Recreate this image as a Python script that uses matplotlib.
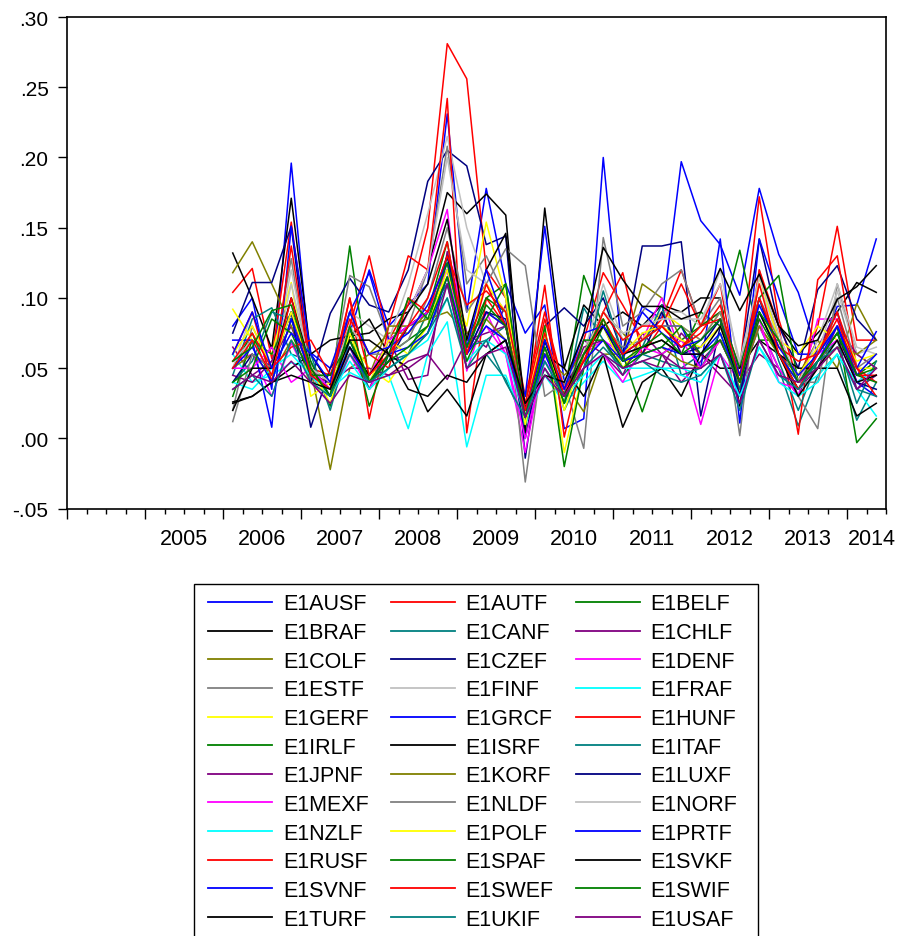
import matplotlib
matplotlib.use("Agg")
import matplotlib.pyplot as plt
from matplotlib.patches import Rectangle
import numpy as np

plt.rcParams['font.family'] = ['Liberation Sans', 'DejaVu Sans']

# quarterly observations 2006Q1 .. 2014Q2 (34 points); axis spans 2004Q1 .. 2014Q2
first_q = 8
n_axis_q = 42

names = ["E1AUSF", "E1AUTF", "E1BELF", "E1BRAF", "E1CANF", "E1CHLF",
         "E1COLF", "E1CZEF", "E1DENF", "E1ESTF", "E1FINF", "E1FRAF",
         "E1GERF", "E1GRCF", "E1HUNF", "E1IRLF", "E1ISRF", "E1ITAF",
         "E1JPNF", "E1KORF", "E1LUXF", "E1MEXF", "E1NLDF", "E1NORF",
         "E1NZLF", "E1POLF", "E1PRTF", "E1RUSF", "E1SPAF", "E1SVKF",
         "E1SVNF", "E1SWEF", "E1SWIF", "E1TURF", "E1UKIF", "E1USAF"]

colors = ["#0000FF", "#FF0000", "#008000", "#000000", "#008080", "#800080",
          "#808000", "#000080", "#FF00FF", "#808080", "#C0C0C0", "#00FFFF",
          "#FFFF00", "#0000FF", "#FF0000", "#008000", "#000000", "#008080",
          "#800080", "#808000", "#000080", "#FF00FF", "#808080", "#C0C0C0",
          "#00FFFF", "#FFFF00", "#0000FF", "#FF0000", "#008000", "#000000",
          "#0000FF", "#FF0000", "#008000", "#000000", "#008080", "#800080"]

ausf = [0.080, 0.100, 0.035, 0.196, 0.050, 0.035, 0.075, 0.120, 0.080, 0.095, 0.110, 0.231, 0.090, 0.178, 0.110, 0.075, 0.095, 0.007, 0.014, 0.200, 0.056, 0.094, 0.085, 0.197, 0.155, 0.138, 0.102, 0.178, 0.131, 0.104, 0.060, 0.094, 0.095, 0.142]
autf = [0.104, 0.121, 0.057, 0.154, 0.050, 0.045, 0.080, 0.130, 0.070, 0.095, 0.150, 0.281, 0.256, 0.120, 0.100, 0.030, 0.090, 0.035, 0.070, 0.118, 0.095, 0.070, 0.085, 0.120, 0.080, 0.090, 0.050, 0.172, 0.085, 0.040, 0.080, 0.151, 0.070, 0.070]
belf = [0.050, 0.075, 0.040, 0.085, 0.045, 0.030, 0.137, 0.040, 0.060, 0.080, 0.090, 0.140, 0.060, 0.100, 0.110, 0.010, 0.070, 0.030, 0.116, 0.080, 0.050, 0.065, 0.070, 0.060, 0.090, 0.080, 0.134, 0.070, 0.070, 0.040, 0.060, 0.090, 0.045, 0.055]
braf = [0.132, 0.100, 0.064, 0.171, 0.060, 0.038, 0.073, 0.075, 0.085, 0.090, 0.120, 0.175, 0.160, 0.174, 0.159, 0.004, 0.164, 0.050, 0.095, 0.080, 0.090, 0.080, 0.095, 0.090, 0.100, 0.100, 0.023, 0.116, 0.080, 0.060, 0.075, 0.090, 0.111, 0.104]
canf = [0.045, 0.085, 0.093, 0.060, 0.055, 0.030, 0.060, 0.040, 0.055, 0.060, 0.075, 0.110, 0.050, 0.060, 0.042, 0.010, 0.050, 0.025, 0.093, 0.070, 0.045, 0.060, 0.055, 0.050, 0.060, 0.070, 0.040, 0.080, 0.050, 0.009, 0.045, 0.060, 0.013, 0.040]
chlf = [0.065, 0.045, 0.055, 0.080, 0.040, 0.030, 0.065, 0.035, 0.070, 0.042, 0.045, 0.133, 0.075, 0.065, 0.095, 0.020, 0.050, 0.030, 0.070, 0.060, 0.045, 0.075, 0.060, 0.040, 0.055, 0.070, 0.040, 0.060, 0.050, 0.030, 0.065, 0.090, 0.035, 0.045]
colf = [0.118, 0.140, 0.110, 0.080, 0.050, -0.022, 0.050, 0.060, 0.075, 0.075, 0.090, 0.110, 0.070, 0.090, 0.080, 0.030, 0.060, 0.040, 0.019, 0.060, 0.060, 0.110, 0.100, 0.070, 0.060, 0.070, 0.050, 0.080, 0.060, 0.045, 0.070, 0.050, 0.096, 0.070]
czef = [0.075, 0.111, 0.111, 0.151, 0.040, 0.089, 0.114, 0.095, 0.090, 0.120, 0.183, 0.205, 0.194, 0.138, 0.144, -0.014, 0.080, 0.093, 0.080, 0.100, 0.060, 0.137, 0.137, 0.140, 0.016, 0.080, 0.050, 0.142, 0.080, 0.050, 0.106, 0.123, 0.085, 0.070]
denf = [0.055, 0.060, 0.030, 0.068, 0.040, 0.025, 0.060, 0.035, 0.060, 0.090, 0.120, 0.163, 0.048, 0.090, 0.060, -0.010, 0.060, 0.030, 0.060, 0.070, 0.060, 0.070, 0.100, 0.060, 0.010, 0.060, 0.040, 0.080, 0.050, 0.030, 0.085, 0.085, 0.040, 0.050]
estf = [0.020, 0.080, 0.050, 0.128, 0.040, 0.040, 0.116, 0.108, 0.070, 0.080, 0.120, 0.208, 0.110, 0.130, 0.100, -0.031, 0.070, 0.040, -0.007, 0.143, 0.080, 0.090, 0.110, 0.120, 0.080, 0.100, 0.002, 0.120, 0.070, 0.030, 0.007, 0.110, 0.060, 0.050]
finf = [0.050, 0.090, 0.050, 0.120, 0.050, 0.040, 0.090, 0.080, 0.070, 0.110, 0.160, 0.215, 0.150, 0.110, 0.090, 0.020, 0.070, 0.040, 0.060, 0.110, 0.070, 0.080, 0.090, 0.090, 0.080, 0.120, 0.050, 0.110, 0.070, 0.040, 0.060, 0.105, 0.060, 0.065]
fraf = [0.060, 0.040, 0.045, 0.054, 0.050, 0.035, 0.047, 0.040, 0.045, 0.007, 0.060, 0.083, -0.006, 0.045, 0.045, 0.010, 0.045, 0.025, 0.040, 0.055, 0.040, 0.045, 0.050, 0.050, 0.045, 0.060, 0.030, 0.065, 0.045, 0.035, 0.045, 0.060, 0.035, 0.016]
gerf = [0.092, 0.070, 0.060, 0.111, 0.030, 0.040, 0.070, 0.050, 0.040, 0.060, 0.090, 0.115, 0.080, 0.154, 0.100, 0.020, 0.080, -0.010, 0.050, 0.080, 0.050, 0.070, 0.090, 0.080, 0.070, 0.090, 0.035, 0.115, 0.070, 0.060, 0.080, 0.070, 0.050, 0.050]
grcf = [0.070, 0.070, 0.008, 0.151, 0.061, 0.050, 0.090, 0.118, 0.070, 0.080, 0.090, 0.120, 0.060, 0.090, 0.080, 0.030, 0.151, 0.040, 0.060, 0.080, 0.060, 0.070, 0.080, 0.080, 0.050, 0.142, 0.011, 0.142, 0.100, 0.060, 0.060, 0.080, 0.040, 0.030]
hunf = [0.060, 0.090, 0.040, 0.137, 0.045, 0.040, 0.100, 0.014, 0.080, 0.130, 0.120, 0.242, 0.004, 0.100, 0.080, 0.020, 0.109, 0.001, 0.060, 0.090, 0.118, 0.060, 0.080, 0.110, 0.080, 0.110, 0.030, 0.120, 0.080, 0.003, 0.113, 0.130, 0.050, 0.040]
irlf = [0.030, 0.070, 0.060, 0.090, 0.055, 0.023, 0.080, 0.023, 0.060, 0.070, 0.080, 0.130, 0.070, 0.100, 0.090, 0.010, 0.080, -0.020, 0.050, 0.080, 0.060, 0.019, 0.060, 0.070, 0.080, 0.090, 0.050, 0.100, 0.116, 0.040, 0.060, 0.080, -0.003, 0.014]
isrf = [0.026, 0.030, 0.040, 0.050, 0.060, 0.070, 0.073, 0.085, 0.060, 0.050, 0.019, 0.035, 0.016, 0.060, 0.070, 0.020, 0.060, 0.050, 0.030, 0.060, 0.008, 0.040, 0.050, 0.030, 0.060, 0.050, 0.050, 0.070, 0.060, 0.050, 0.050, 0.050, 0.016, 0.025]
itaf = [0.040, 0.055, 0.090, 0.085, 0.060, 0.020, 0.070, 0.035, 0.050, 0.060, 0.090, 0.110, 0.065, 0.070, 0.080, 0.010, 0.075, 0.020, 0.050, 0.105, 0.060, 0.065, 0.095, 0.045, 0.050, 0.075, 0.035, 0.100, 0.055, 0.020, 0.055, 0.070, 0.025, 0.055]
jpnf = [0.045, 0.040, 0.055, 0.090, 0.045, 0.040, 0.050, 0.050, 0.045, 0.055, 0.060, 0.042, 0.070, 0.075, 0.080, 0.015, 0.055, 0.030, 0.065, 0.070, 0.050, 0.055, 0.050, 0.075, 0.060, 0.045, 0.030, 0.090, 0.060, 0.035, 0.050, 0.080, 0.060, 0.050]
korf = [0.050, 0.060, 0.045, 0.070, 0.050, 0.040, 0.060, 0.045, 0.080, 0.080, 0.085, 0.090, 0.075, 0.085, 0.070, 0.020, 0.060, 0.045, 0.060, 0.090, 0.075, 0.060, 0.065, 0.055, 0.050, 0.070, 0.040, 0.080, 0.060, 0.040, 0.050, 0.065, 0.060, 0.070]
luxf = [0.040, 0.060, 0.050, 0.090, 0.008, 0.050, 0.070, 0.040, 0.055, 0.080, 0.090, 0.130, 0.060, 0.090, 0.085, 0.000, 0.070, 0.030, 0.060, 0.080, 0.055, 0.060, 0.090, 0.060, 0.065, 0.085, 0.030, 0.100, 0.060, 0.035, 0.055, 0.075, 0.040, 0.035]
mexf = [0.050, 0.050, 0.065, 0.040, 0.050, 0.035, 0.060, 0.045, 0.070, 0.080, 0.090, 0.120, 0.060, 0.080, 0.060, 0.000, 0.055, 0.035, 0.050, 0.060, 0.040, 0.065, 0.060, 0.070, 0.050, 0.070, 0.040, 0.085, 0.040, 0.035, 0.060, 0.070, 0.040, 0.050]
nldf = [0.012, 0.060, 0.050, 0.100, 0.050, 0.040, 0.090, 0.060, 0.060, 0.070, 0.100, 0.150, 0.090, 0.110, 0.135, 0.123, 0.030, 0.040, 0.060, 0.080, 0.065, 0.070, 0.080, 0.080, 0.070, 0.090, 0.045, 0.100, 0.070, 0.040, 0.040, 0.100, 0.050, 0.060]
norf = [0.055, 0.070, 0.045, 0.110, 0.050, 0.040, 0.080, 0.060, 0.065, 0.090, 0.120, 0.200, 0.120, 0.110, 0.090, 0.025, 0.065, 0.040, 0.060, 0.090, 0.075, 0.080, 0.085, 0.085, 0.085, 0.110, 0.055, 0.115, 0.075, 0.040, 0.070, 0.110, 0.065, 0.060]
nzlf = [0.040, 0.035, 0.050, 0.060, 0.045, 0.030, 0.055, 0.035, 0.050, 0.060, 0.070, 0.100, 0.055, 0.070, 0.060, 0.015, 0.055, 0.030, 0.045, 0.060, 0.050, 0.050, 0.050, 0.045, 0.040, 0.060, 0.030, 0.065, 0.040, 0.030, 0.040, 0.060, 0.040, 0.050]
polf = [0.060, 0.080, 0.050, 0.090, 0.050, 0.025, 0.075, 0.040, 0.070, 0.060, 0.080, 0.120, 0.070, 0.110, 0.090, 0.010, 0.075, 0.020, 0.060, 0.085, 0.060, 0.075, 0.080, 0.070, 0.065, 0.080, 0.040, 0.090, 0.065, 0.045, 0.065, 0.080, 0.055, 0.060]
prtf = [0.050, 0.065, 0.040, 0.085, 0.045, 0.035, 0.065, 0.040, 0.060, 0.065, 0.075, 0.115, 0.060, 0.080, 0.070, 0.015, 0.060, 0.030, 0.055, 0.070, 0.055, 0.060, 0.065, 0.060, 0.060, 0.075, 0.040, 0.090, 0.060, 0.040, 0.055, 0.080, 0.050, 0.076]
rusf = [0.055, 0.075, 0.050, 0.065, 0.070, 0.045, 0.085, 0.060, 0.050, 0.100, 0.090, 0.130, 0.095, 0.105, 0.090, 0.025, 0.085, 0.035, 0.055, 0.090, 0.070, 0.080, 0.080, 0.065, 0.080, 0.085, 0.045, 0.100, 0.065, 0.055, 0.060, 0.085, 0.045, 0.045]
spaf = [0.040, 0.050, 0.085, 0.075, 0.045, 0.045, 0.070, 0.040, 0.055, 0.065, 0.080, 0.115, 0.055, 0.085, 0.110, 0.015, 0.065, 0.025, 0.070, 0.070, 0.050, 0.060, 0.065, 0.080, 0.060, 0.070, 0.040, 0.085, 0.060, 0.035, 0.055, 0.075, 0.045, 0.040]
svkf = [0.020, 0.050, 0.050, 0.100, 0.050, 0.030, 0.065, 0.045, 0.065, 0.090, 0.110, 0.156, 0.070, 0.120, 0.146, 0.020, 0.070, 0.030, 0.060, 0.080, 0.060, 0.065, 0.070, 0.060, 0.060, 0.080, 0.040, 0.090, 0.060, 0.030, 0.050, 0.070, 0.040, 0.045]
svnf = [0.060, 0.090, 0.050, 0.075, 0.060, 0.040, 0.090, 0.060, 0.065, 0.075, 0.095, 0.125, 0.065, 0.120, 0.080, 0.020, 0.070, 0.035, 0.075, 0.080, 0.060, 0.090, 0.075, 0.065, 0.070, 0.085, 0.045, 0.095, 0.065, 0.045, 0.060, 0.080, 0.045, 0.060]
swef = [0.050, 0.070, 0.045, 0.100, 0.045, 0.035, 0.100, 0.045, 0.060, 0.080, 0.100, 0.140, 0.060, 0.110, 0.080, 0.020, 0.075, 0.030, 0.055, 0.085, 0.060, 0.070, 0.080, 0.065, 0.075, 0.095, 0.040, 0.110, 0.060, 0.035, 0.060, 0.090, 0.050, 0.030]
swif = [0.055, 0.065, 0.091, 0.095, 0.050, 0.030, 0.080, 0.040, 0.060, 0.100, 0.085, 0.125, 0.065, 0.095, 0.080, 0.015, 0.065, 0.025, 0.060, 0.085, 0.055, 0.065, 0.075, 0.060, 0.070, 0.085, 0.040, 0.090, 0.070, 0.040, 0.055, 0.075, 0.045, 0.050]
turf = [0.025, 0.030, 0.040, 0.045, 0.040, 0.035, 0.070, 0.070, 0.060, 0.035, 0.030, 0.045, 0.040, 0.060, 0.070, 0.025, 0.045, 0.040, 0.075, 0.136, 0.113, 0.094, 0.094, 0.085, 0.090, 0.121, 0.091, 0.117, 0.080, 0.066, 0.070, 0.099, 0.108, 0.123]
ukif = [0.035, 0.045, 0.030, 0.070, 0.040, 0.030, 0.060, 0.040, 0.050, 0.060, 0.075, 0.100, 0.050, 0.070, 0.040, 0.015, 0.055, 0.030, 0.050, 0.065, 0.050, 0.055, 0.045, 0.040, 0.045, 0.060, 0.020, 0.070, 0.045, 0.035, 0.055, 0.065, 0.035, 0.030]
usaf = [0.035, 0.045, 0.040, 0.055, 0.040, 0.025, 0.045, 0.040, 0.045, 0.050, 0.060, 0.110, 0.050, 0.060, 0.065, 0.015, 0.045, 0.030, 0.050, 0.060, 0.050, 0.055, 0.060, 0.050, 0.050, 0.060, 0.025, 0.070, 0.045, 0.040, 0.050, 0.065, 0.035, 0.050]

series = [ausf, autf, belf, braf, canf, chlf, colf, czef, denf, estf, finf, fraf,
          gerf, grcf, hunf, irlf, isrf, itaf, jpnf, korf, luxf, mexf, nldf, norf,
          nzlf, polf, prtf, rusf, spaf, svkf, svnf, swef, swif, turf, ukif, usaf]

year_labels = ["2005", "2006", "2007", "2008", "2009", "2010", "2011", "2012", "2013", "2014"]
year_label_pos = [6, 10, 14, 18, 22, 26, 30, 34, 38, 41.3]
y_ticks = [-0.05, 0.0, 0.05, 0.10, 0.15, 0.20, 0.25, 0.30]
y_ticklabels = ["-.05", ".00", ".05", ".10", ".15", ".20", ".25", ".30"]

fig = plt.figure(figsize=(9.05, 9.37), dpi=100)
ax = fig.add_axes([67 / 905, 1 - 509.7 / 937, (886 - 67) / 905, (509.7 - 18) / 937])

x = np.arange(first_q, first_q + len(ausf)) + 0.5
handles = []
for name, vals, c in zip(names, series, colors):
    ln, = ax.plot(x, vals, color=c, lw=1.1, label=name)
    handles.append(ln)

ax.set_xlim(0, n_axis_q)
ax.set_ylim(-0.05, 0.30)
ax.set_yticks(y_ticks)
ax.set_yticklabels(y_ticklabels, fontsize=15)
ax.set_xticks(np.arange(0, n_axis_q + 1, 4))
ax.set_xticklabels([])
ax.set_xticks(np.arange(0, n_axis_q + 1), minor=True)
ax.tick_params(axis='x', which='major', length=7.5, width=1.0, direction='out')
ax.tick_params(axis='x', which='minor', length=3.8, width=1.0, direction='out')
ax.tick_params(axis='y', length=6.8, width=1.0, direction='out', pad=6.5)
for sp in ax.spines.values():
    sp.set_linewidth(1.2)

for lab, pos in zip(year_labels, year_label_pos):
    ax.text(pos, -0.0385, lab, transform=ax.get_xaxis_transform(),
            ha='center', va='top', fontsize=15.5)

# legend filled row by row (3 columns), as in the original
ncol = 3
nrow = len(names) // ncol
order = [r * ncol + c for c in range(ncol) for r in range(nrow)]
leg = fig.legend([handles[i] for i in order], [names[i] for i in order],
                 loc='upper left', bbox_to_anchor=(208 / 905, 1 - 594.5 / 937),
                 ncol=ncol, fontsize=15.5, frameon=False,
                 handlelength=2.98, handletextpad=0.5, columnspacing=1.02,
                 labelspacing=0.355, borderpad=0, borderaxespad=0)
for ln in leg.get_lines():
    ln.set_linewidth(1.3)

frame = Rectangle((194 / 905, -0.05), (758 - 194) / 905, 1.05 - 585 / 937,
                  transform=fig.transFigure, fill=False, edgecolor='black',
                  linewidth=1.0, clip_on=False)
fig.add_artist(frame)

fig.savefig("out.png", dpi=100)
